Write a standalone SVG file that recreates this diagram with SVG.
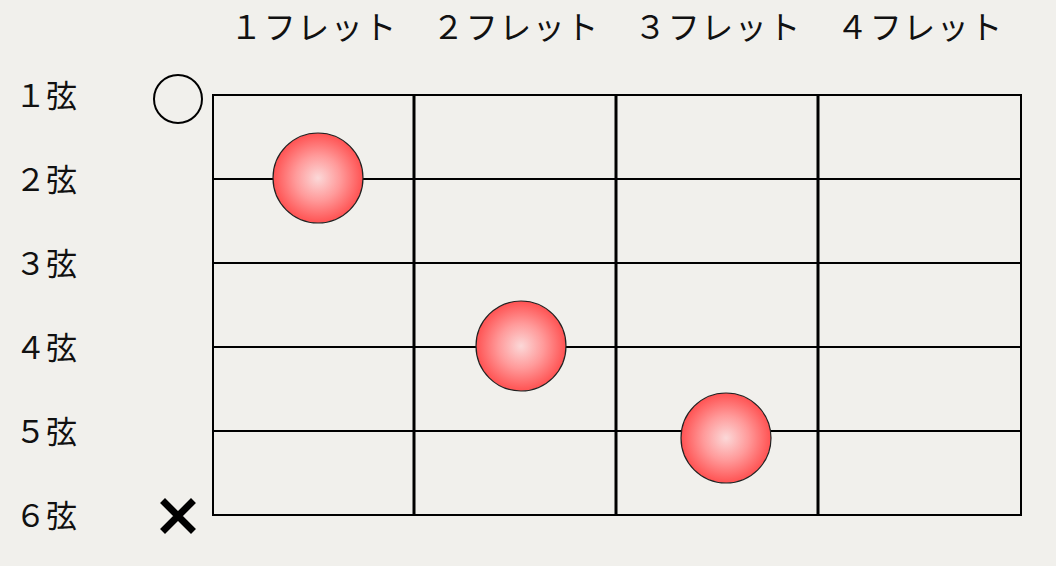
<svg xmlns="http://www.w3.org/2000/svg" width="1056" height="566" viewBox="0 0 1056 566">
<defs>
<radialGradient id="ball" cx="50%" cy="50%" r="50%">
<stop offset="0" stop-color="#fbd8d8"/>
<stop offset="0.5" stop-color="#ff9a9a"/>
<stop offset="1" stop-color="#ff5252"/>
</radialGradient>
<style>
.t{font-family:"Noto Sans CJK JP","Noto Sans",sans-serif;font-size:31px;fill:#111}
.h{text-anchor:middle;letter-spacing:1.5px;font-size:32px}
.s{stroke:#000;stroke-width:2;fill:none}
.f{stroke:#000;stroke-width:3;fill:none}
.dot{fill:url(#ball);stroke:#222;stroke-width:1.2}
</style>
</defs>
<rect width="1056" height="566" fill="#f1f0ec"/>
<g id="fret-labels">
<text class="t h" x="314" y="39">１フレット</text>
<text class="t h" x="516" y="39">２フレット</text>
<text class="t h" x="718" y="39">３フレット</text>
<text class="t h" x="920" y="39">４フレット</text>
</g>
<g id="string-labels">
<text class="t" x="15" y="107">１弦</text>
<text class="t" x="15" y="191">２弦</text>
<text class="t" x="15" y="275">３弦</text>
<text class="t" x="15" y="359">４弦</text>
<text class="t" x="15" y="443">５弦</text>
<text class="t" x="15" y="527">６弦</text>
</g>
<g id="grid">
<rect class="s" x="213" y="95" width="808" height="420"/>
<line class="s" x1="213" y1="179" x2="1021" y2="179"/>
<line class="s" x1="213" y1="263" x2="1021" y2="263"/>
<line class="s" x1="213" y1="347" x2="1021" y2="347"/>
<line class="s" x1="213" y1="431" x2="1021" y2="431"/>
<line class="f" x1="414" y1="95" x2="414" y2="515"/>
<line class="f" x1="616" y1="95" x2="616" y2="515"/>
<line class="f" x1="818" y1="95" x2="818" y2="515"/>
</g>
<g id="open-string">
<circle cx="178" cy="99" r="24" fill="none" stroke="#000" stroke-width="2"/>
</g>
<g id="muted-string">
<path d="M165 503 L191 529 M191 503 L165 529" stroke="#000" stroke-width="7" stroke-linecap="square"/>
</g>
<g id="dot-2-1"><circle class="dot" cx="318" cy="178" r="45"/></g>
<g id="dot-4-2"><circle class="dot" cx="521" cy="346" r="45"/></g>
<g id="dot-5-3"><circle class="dot" cx="726" cy="438" r="45"/></g>
</svg>
